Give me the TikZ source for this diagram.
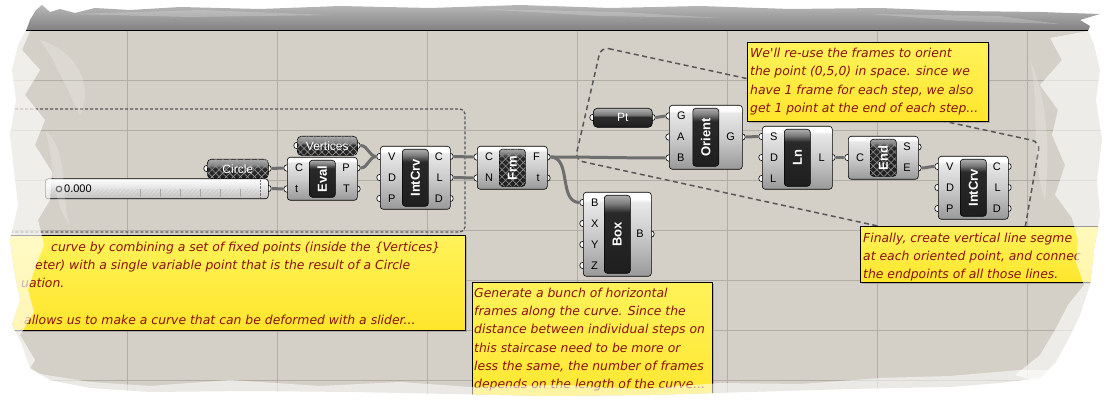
\documentclass[tikz,border=0pt]{standalone}
\usepackage{fontspec}
\setmainfont{Liberation Sans}
\newfontfamily\notefont{DejaVu Sans}
\usetikzlibrary{calc,patterns.meta,shadows}
\definecolor{canvasgray}{HTML}{D4D0C8}
\definecolor{gridgray}{HTML}{B2AEA6}
\definecolor{wiregray}{HTML}{6E6E6E}
\definecolor{groupgray}{HTML}{585858}
\definecolor{bandgray}{HTML}{8F8D89}
\definecolor{notetop}{HTML}{FFF25A}
\definecolor{notebottom}{HTML}{FFE62C}
\definecolor{notered}{HTML}{8A1212}

\pgfdeclareverticalshading{bodyshade}{100bp}{color(0bp)=(black!40); color(25bp)=(black!40); color(50bp)=(black!20); color(69bp)=(black!9); color(71bp)=(white); color(100bp)=(white)}
\pgfdeclareverticalshading{capshade}{100bp}{color(0bp)=(black!88); color(25bp)=(black!88); color(64bp)=(black!84); color(70bp)=(black!50); color(75bp)=(black!32); color(100bp)=(black!32)}
\pgfdeclareverticalshading{paramshade}{100bp}{color(0bp)=(black!88); color(25bp)=(black!88); color(52bp)=(black!82); color(58bp)=(black!52); color(75bp)=(black!30); color(100bp)=(black!30)}
\pgfdeclareverticalshading{slidershade}{100bp}{color(0bp)=(black!25); color(25bp)=(black!25); color(50bp)=(black!12); color(75bp)=(white); color(100bp)=(white)}
\pgfdeclareverticalshading{noteshade}{100bp}{color(0bp)=(notebottom); color(25bp)=(notebottom); color(75bp)=(notetop); color(100bp)=(notetop)}

% count the entries of a port list
\newcount\portcount
\newcommand\countports[1]{\global\portcount=0\relax\foreach \q in {#1}{\global\advance\portcount by 1\relax}}

% [capsule style]{name}{x}{y}{width}{height}{label}{inputs}{outputs}
\newcommand\ghcomp[9][capsule]{%
  \countports{#8}\edef\nin{\the\portcount}%
  \countports{#9}\edef\nout{\the\portcount}%
  \foreach \lab [count=\i] in {#8}{%
    \pgfmathsetmacro\py{#4+#6/2+21*(\i-(\nin+1)/2)}%
    \node[grip] (#2-in\i) at (#3,\py) {};}%
  \foreach \lab [count=\i] in {#9}{%
    \pgfmathsetmacro\py{#4+#6/2+21*(\i-(\nout+1)/2)}%
    \node[grip] (#2-out\i) at (#3+#5,\py) {};}%
  \node[compbody, minimum width=#5, minimum height=#6] (#2) at (#3,#4) {};%
  \pgfmathsetmacro\caph{#6-6}%
  \node[#1, minimum height=\caph] (#2-cap) at (#2.center) {};%
  \node[caplabel] (#2-lab) at (#2-cap) {#7};%
  \foreach \lab [count=\i] in {#8}{%
    \node[portlab, anchor=west] (#2-inlab\i) at ($(#2-in\i)+(8,0)$) {\lab};}%
  \foreach \lab [count=\i] in {#9}{%
    \node[portlab, anchor=east] (#2-outlab\i) at ($(#2-out\i)+(-7,0)$) {\lab};}%
}

% [style]{name}{x}{y}{width}{label}
\newcommand\ghparam[6][parambox]{%
  \node[grip] (#2-in) at (#3,#4+9.5) {};%
  \node[grip] (#2-out) at (#3+#5,#4+9.5) {};%
  \node[#1, minimum width=#5] (#2) at (#3,#4) {};%
  \node[paramlab] (#2-lab) at (#2.center) {#6};%
}

\begin{document}
\begin{tikzpicture}[x=1pt, y=-1pt,
  canvasedge/.style={insert path={(26,30) -- (1088,30) -- (1094,45) -- (1100,70) -- (1096,100) -- (1102,140) -- (1097,180) -- (1100,215) -- (1094,250) -- (1090,285) -- (1080,315) -- (1068,340) -- (1056,362) -- (1040,378) -- (1000,383) -- (950,387) -- (850,389) -- (750,392) -- (650,395) -- (550,396) -- (450,394) -- (350,392) -- (250,391) -- (150,392) -- (90,388) -- (50,380) -- (30,368) -- (22,345) -- (12,325) -- (20,300) -- (14,270) -- (10,240) -- (18,205) -- (14,170) -- (10,135) -- (16,100) -- (12,70) -- (18,45) -- cycle}},
  gridline/.style={draw=gridgray, line width=0.6pt},
  groupA/.style={draw=groupgray, line width=1.3pt, dash pattern=on 3pt off 2pt, rounded corners=5pt},
  groupB/.style={draw=groupgray, line width=1.5pt, dash pattern=on 5pt off 3.5pt, rounded corners=8pt},
  grip/.style={circle, draw=black, fill=white, line width=0.6pt, minimum size=6.5pt, inner sep=0pt},
  compbody/.style={draw=black, line width=0.6pt, rounded corners=3pt, shading=bodyshade, inner sep=0pt, anchor=north west},
  capsule/.style={draw=black, line width=0.6pt, rounded corners=3pt, shading=capshade, minimum width=26pt, inner sep=0pt},
  diamonds/.style={postaction={pattern={Lines[angle=45,distance=5pt,line width=0.6pt]}, pattern color=#1},
                   postaction={pattern={Lines[angle=-45,distance=5pt,line width=0.6pt]}, pattern color=#1}},
  hatchcap/.style={capsule, diamonds=black!42},
  caplabel/.style={font=\bfseries\fontsize{13}{13}\selectfont, text=white, inner sep=0pt, rotate=90},
  portlab/.style={font=\fontsize{11}{11}\selectfont, inner sep=0pt},
  parambox/.style={draw=black, line width=0.6pt, rounded corners=4pt, shading=paramshade, minimum height=19pt, inner sep=0pt, anchor=north west},
  hatchparam/.style={parambox, diamonds=black!40},
  paramlab/.style={font=\fontsize{12}{12}\selectfont, text=white, inner sep=0pt},
  sliderbody/.style={draw=black, line width=0.6pt, rounded corners=3pt, shading=slidershade, minimum height=20pt, inner sep=0pt, anchor=north west},
  slidertick/.style={draw=black!35, line width=0.5pt},
  wire/.style={draw=wiregray, line width=3pt},
  notebox/.style={draw=black, line width=0.7pt, shading=noteshade, inner sep=0pt, anchor=north west,
                  drop shadow={opacity=0.45, shadow xshift=1.5pt, shadow yshift=-1.5pt}},
  notetext/.style={font=\notefont\itshape\fontsize{12.4}{18.3}\selectfont, text=notered, align=left, inner sep=0pt, anchor=north west}
]
\useasboundingbox (0,0) rectangle (1106,403);
\fill[white] (0,0) rectangle (1106,403);

\fill[canvasgray, canvasedge];
\begin{scope}
  \clip[canvasedge];
  % grid
  \foreach \gx in {127,277,...,1027} \draw[gridline] (\gx,30) -- (\gx,403);
  \foreach \gy in {80,130,...,380} \draw[gridline] (0,\gy) -- (1106,\gy);

  % groups
  \draw[groupA] (-20,109) -- (465,109) -- (465,232) -- (-20,232);
  \draw[groupB] (601,47) -- (1040,142) -- (1020,257) -- (575,160) -- cycle;

  % slider
  \node[grip] (slider-out) at (268,188.5) {};
  \node[sliderbody, minimum width=223] (slider) at (45,178.5) {};
  \fill[pattern={Lines[angle=45,distance=3pt,line width=0.4pt]}, pattern color=black!22] (46,190) rectangle (259,197.5);
  \foreach \tx in {140,160,...,240} \draw[slidertick] (\tx,189) -- (\tx,197.5);
  \draw[black!55, densely dotted] (260,180) -- (260,197.5);
  \node[circle, draw=black!75, line width=1.1pt, minimum size=5.5pt, inner sep=0pt] (slider-icon) at (59,189) {};
  \node[portlab, anchor=west] (slider-val) at (64,189) {0.000};

  % params
  \ghparam[hatchparam]{circle}{207}{159}{61}{Circle}
  \ghparam[hatchparam]{vertices}{297}{136}{60}{Vertices}
  \ghparam{pt}{593}{108}{59}{Pt}

  % components
  \ghcomp{eval}{287}{157}{70}{43}{Eval}{C,t}{P,T}
  \ghcomp{intcrvA}{380}{146}{70}{63}{IntCrv}{V,D,P}{C,L,D}
  \ghcomp[hatchcap]{frm}{477}{146}{70}{43}{Frm}{C,N}{F,t}
  \ghcomp{orient}{669}{105}{73}{64}{Orient}{G,A,B}{G}
  \ghcomp{box}{583}{192}{68}{84}{Box}{B,X,Y,Z}{B}
  \ghcomp{ln}{762}{126}{70}{63}{Ln}{S,D,L}{L}
  \ghcomp[hatchcap]{endpt}{848}{136}{70}{43}{End}{C}{S,E}
  \ghcomp{intcrvB}{938}{156}{70}{63}{IntCrv}{V,D,P}{C,L,D}

  % wires
  \draw[wire] (circle-out.east) -- (eval-in1.west);
  \draw[wire] (slider-out.east) -- (eval-in2.west);
  \draw[wire] (vertices-out.east) to[out=0,in=180] (intcrvA-in1.west);
  \draw[wire] (eval-out1.east) to[out=0,in=180] (intcrvA-in1.west);
  \draw[wire] (intcrvA-out1.east) -- (frm-in1.west);
  \draw[wire] (intcrvA-out2.east) -- (frm-in2.west);
  \draw[wire] (frm-out1.east) to[out=0,in=180] (orient-in3.west);
  \draw[wire] (frm-out1.east) to[out=0,in=180] (box-in1.west);
  \draw[wire] (pt-out.east) -- (orient-in1.west);
  \draw[wire] (orient-out1.east) -- (ln-in1.west);
  \draw[wire] (ln-out1.east) -- (endpt-in1.west);
  \draw[wire] (endpt-out2.east) to[out=0,in=180] (intcrvB-in1.west);

  % notes
  \node[notebox, minimum width=241, minimum height=79] (noteorient) at (747,42) {};
  \node[notetext] (noteorient-text) at (750,45.5) {\rule{0pt}{12pt}We'll re-use the frames to orient\\
    the point (0,5,0) in space. since we\\ have 1 frame for each step, we also\\ get 1 point at the end of each step...};
  \node[notebox, minimum width=245, minimum height=56] (notelines) at (860,226) {};
  \node[notetext] (notelines-text) at (863,230) {\rule{0pt}{12pt}Finally, create vertical line segme\\
    at each oriented point, and connec\\ the endpoints of all those lines.};
  \node[notebox, minimum width=480, minimum height=95] (notecurve) at (-15,235) {};
  \node[notetext] (notecurve-text) at (-5,239) {\rule{0pt}{12pt}\hspace*{56pt}curve by combining a set of fixed points (inside the \{Vertices\}\\
    \hspace*{40pt}eter) with a single variable point that is the result of a Circle\\
    \hspace*{26pt}uation.\\ \mbox{}\\
    \hspace*{29pt}allows us to make a curve that can be deformed with a slider...};
  \node[notebox, minimum width=240, minimum height=130] (noteframes) at (472,282) {};
  \node[notetext] (noteframes-text) at (474,285) {\rule{0pt}{12pt}Generate a bunch of horizontal\\
    frames along the curve. Since the\\ distance between individual steps on\\ this staircase need to be more or\\
    less the same, the number of frames\\ depends on the length of the curve...};
\end{scope}

% torn edges
\fill[white, opacity=0.65] (0,31) -- (30,31) -- (22,50) -- (40,70) -- (25,95) -- (45,120) -- (35,145) -- (52,172) -- (50,200) -- (38,220) -- (44,245) -- (36,265) -- (28,290) -- (34,312) -- (20,335) -- (35,360) -- (20,385) -- (0,403) -- cycle;
\fill[white, opacity=0.2] (40,40) .. controls (75,50) and (95,85) .. (80,115) .. controls (65,85) and (55,60) .. (40,40);
\fill[white, opacity=0.2] (45,130) .. controls (70,150) and (60,200) .. (70,225) .. controls (50,200) and (55,160) .. (45,130);
\fill[white, opacity=0.6] (1106,31) -- (1088,31) -- (1050,38) -- (1062,60) -- (1040,85) -- (1058,110) -- (1052,135) -- (1065,165) -- (1055,195) -- (1072,218) -- (1078,240) -- (1076,262) -- (1084,285) -- (1068,305) -- (1055,330) -- (1040,355) -- (1015,375) -- (1106,403) -- cycle;
\fill[white, opacity=0.2] (1030,60) .. controls (1040,100) and (1030,160) .. (1045,200) .. controls (1050,150) and (1048,100) .. (1030,60);
\fill[white, opacity=0.55] (0,403) -- (0,370) -- (40,374) -- (90,382) -- (150,386) -- (230,380) -- (320,386) -- (400,382) -- (470,387) -- (560,385) -- (640,389) -- (720,383) -- (800,384) -- (880,378) -- (950,376) -- (1020,370) -- (1106,370) -- (1106,403) -- cycle;

% top band
\shade[top color=black!28, bottom color=black!50] (26,31) -- (30,20) -- (36,10) -- (42,5) -- (50,12) -- (60,9) -- (75,13) -- (95,8) -- (130,10) -- (180,7) -- (260,9) -- (340,6) -- (430,8) -- (520,5) -- (610,8) -- (700,6) -- (790,9) -- (880,8) -- (960,11) -- (1040,12) -- (1100,14) -- (1080,20) -- (1090,26) -- (1088,31) -- cycle;
\fill[white, opacity=0.2] (70,14) -- (200,10) -- (330,15) -- (190,17) -- cycle;
\fill[white, opacity=0.2] (480,9) -- (620,12) -- (720,18) -- (600,16) -- cycle;
\fill[white, opacity=0.2] (870,14) -- (1000,16) -- (1060,24) -- (960,21) -- cycle;
\draw[line width=1.2pt] (26,30.5) -- (1088,30.5);
\end{tikzpicture}
\end{document}
